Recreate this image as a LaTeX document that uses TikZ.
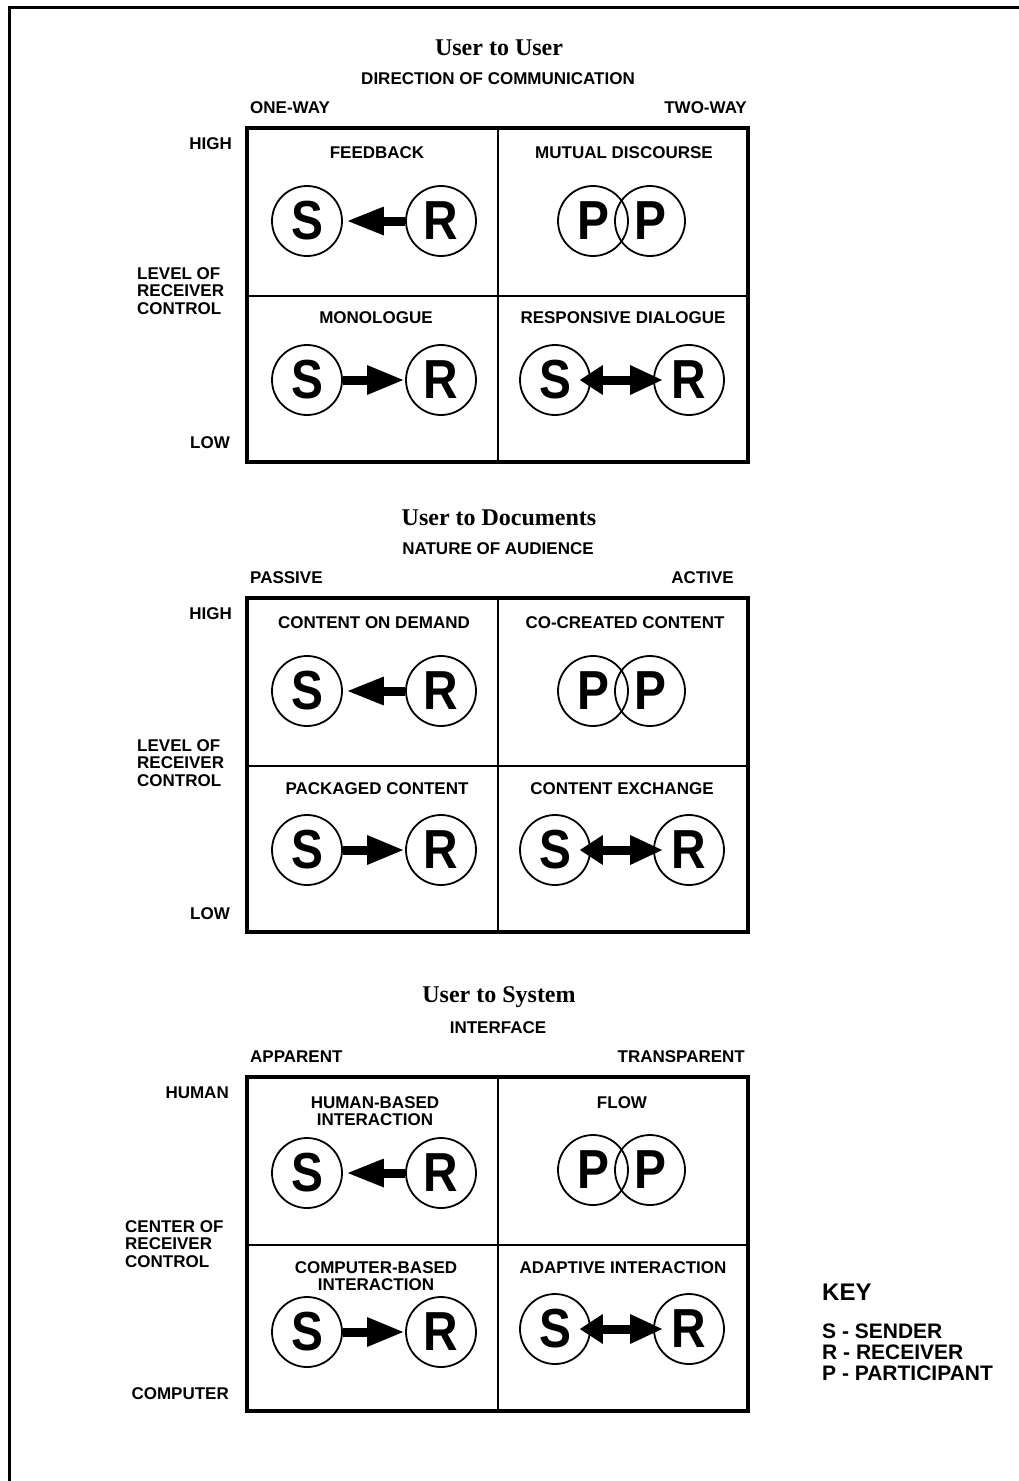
\documentclass[tikz,border=0pt]{standalone}
\usepackage{fontspec}
\setmainfont{Liberation Sans}
\newfontfamily\ttlfont{Liberation Serif}
\newfontfamily\bigfont[FakeStretch=0.87]{Liberation Sans}
\usetikzlibrary{arrows.meta}
\newcommand\lblfont{\bfseries\fontsize{17}{17.5}\selectfont}
\newcommand\keyfont{\bfseries\fontsize{21}{21}\selectfont}
\begin{document}
\begin{tikzpicture}[x=1pt,y=-1pt,
  lbl/.style={font=\lblfont, inner sep=0pt, align=center},
  lblw/.style={font=\lblfont, inner sep=0pt, anchor=west, align=left},
  lble/.style={font=\lblfont, inner sep=0pt, anchor=east, align=right},
  ttl/.style={font=\ttlfont\bfseries\fontsize{24}{26}\selectfont, inner sep=0pt},
  ent/.style={circle, draw, line width=1.8pt, minimum size=70pt, inner sep=0pt,
              font=\bigfont\bfseries\fontsize{55}{55}\selectfont},
  boxframe/.style={line width=3.5pt},
  divider/.style={line width=1.5pt},
  leftarrow/.style={line width=9pt, shorten >=5pt, -{Triangle[length=36pt,width=29pt,line width=0pt]}},
  rightarrow/.style={line width=9pt, shorten >=2pt, -{Triangle[length=36pt,width=30pt,line width=0pt]}},
  twoarrow/.style={line width=9pt, shorten <=-11pt, shorten >=-9pt,
     {Triangle[length=23pt,width=30pt,line width=0pt]}-{Triangle[length=32pt,width=30pt,line width=0pt]}}
]
\useasboundingbox (0,0) rectangle (1019,1481);
% page frame
\draw[line width=3pt] (9,1481) -- (9,7.5) -- (1019,7.5);

% ================= Section 1: User to User =================
\node[ttl] (t1) at (499,48) {User to User};
\node[lbl] (ax1) at (498,79) {DIRECTION OF COMMUNICATION};
\node[lblw] (l1) at (250,108) {ONE-WAY};
\node[lble] (r1) at (747,108) {TWO-WAY};
\node[lble] (h1) at (232,144) {HIGH};
\node[lble] (lo1) at (230,443) {LOW};
\node[lblw] (s1) at (137,291) {LEVEL OF\\RECEIVER\\CONTROL};
\draw[divider] (498,128) -- (498,462) (247,296) -- (748,296);
\draw[boxframe] (247,128) rectangle (748,462);
\node[lbl] (q1a) at (377,153) {FEEDBACK};
\node[lbl] (q1b) at (624,153) {MUTUAL DISCOURSE};
\node[lbl] (q1c) at (376,318) {MONOLOGUE};
\node[lbl] (q1d) at (623,318) {RESPONSIVE DIALOGUE};
\node[ent] (aS1) at (307,221) {S};
\node[ent] (aR1) at (441,221) {R};
\draw[leftarrow] (aR1) -- (aS1);
\node[ent] (aP1) at (593,221) {P};
\node[ent] (aP2) at (650,221) {P};
\node[ent] (aS3) at (307,380) {S};
\node[ent] (aR3) at (441,380) {R};
\draw[rightarrow] (aS3) -- (aR3);
\node[ent] (aS4) at (555,380) {S};
\node[ent] (aR4) at (689,380) {R};
\draw[twoarrow] (aS4) -- (aR4);

% ================= Section 2: User to Documents =================
\node[ttl] (t2) at (499,518) {User to Documents};
\node[lbl] (ax2) at (498,549) {NATURE OF AUDIENCE};
\node[lblw] (l2) at (250,578) {PASSIVE};
\node[lble] (r2) at (734,578) {ACTIVE};
\node[lble] (h2) at (232,614) {HIGH};
\node[lble] (lo2) at (230,914) {LOW};
\node[lblw] (s2) at (137,763) {LEVEL OF\\RECEIVER\\CONTROL};
\draw[divider] (498,598) -- (498,932) (247,766) -- (748,766);
\draw[boxframe] (247,598) rectangle (748,932);
\node[lbl] (q2a) at (374,623) {CONTENT ON DEMAND};
\node[lbl] (q2b) at (625,623) {CO-CREATED CONTENT};
\node[lbl] (q2c) at (377,789) {PACKAGED CONTENT};
\node[lbl] (q2d) at (622,789) {CONTENT EXCHANGE};
\node[ent] (bS1) at (307,691) {S};
\node[ent] (bR1) at (441,691) {R};
\draw[leftarrow] (bR1) -- (bS1);
\node[ent] (bP1) at (593,691) {P};
\node[ent] (bP2) at (650,691) {P};
\node[ent] (bS3) at (307,850) {S};
\node[ent] (bR3) at (441,850) {R};
\draw[rightarrow] (bS3) -- (bR3);
\node[ent] (bS4) at (555,850) {S};
\node[ent] (bR4) at (689,850) {R};
\draw[twoarrow] (bS4) -- (bR4);

% ================= Section 3: User to System =================
\node[ttl] (t3) at (499,997) {User to System};
\node[lbl] (ax3) at (498,1028) {INTERFACE};
\node[lblw] (l3) at (250,1057) {APPARENT};
\node[lble] (r3) at (745,1057) {TRANSPARENT};
\node[lble] (h3) at (229,1093) {HUMAN};
\node[lble] (lo3) at (229,1394) {COMPUTER};
\node[lblw] (s3) at (125,1244) {CENTER OF\\RECEIVER\\CONTROL};
\draw[divider] (498,1077) -- (498,1411) (247,1245) -- (748,1245);
\draw[boxframe] (247,1077) rectangle (748,1411);
\node[lbl, font=\bfseries\fontsize{17}{17}\selectfont] (q3a) at (375,1111) {HUMAN-BASED\\INTERACTION};
\node[lbl] (q3b) at (622,1103) {FLOW};
\node[lbl, font=\bfseries\fontsize{17}{17}\selectfont] (q3c) at (376,1276) {COMPUTER-BASED\\INTERACTION};
\node[lbl] (q3d) at (623,1268) {ADAPTIVE INTERACTION};
\node[ent] (cS1) at (307,1173) {S};
\node[ent] (cR1) at (441,1173) {R};
\draw[leftarrow] (cR1) -- (cS1);
\node[ent] (cP1) at (593,1170) {P};
\node[ent] (cP2) at (650,1170) {P};
\node[ent] (cS3) at (307,1332) {S};
\node[ent] (cR3) at (441,1332) {R};
\draw[rightarrow] (cS3) -- (cR3);
\node[ent] (cS4) at (555,1329) {S};
\node[ent] (cR4) at (689,1329) {R};
\draw[twoarrow] (cS4) -- (cR4);

% ================= Key =================
\node[anchor=west, inner sep=0pt, font=\bfseries\fontsize{24}{24}\selectfont] (key) at (822,1292) {KEY};
\node[anchor=west, inner sep=0pt, align=left, font=\keyfont] (keyl) at (822,1352) {S - SENDER\\R - RECEIVER\\P - PARTICIPANT};
\end{tikzpicture}
\end{document}
